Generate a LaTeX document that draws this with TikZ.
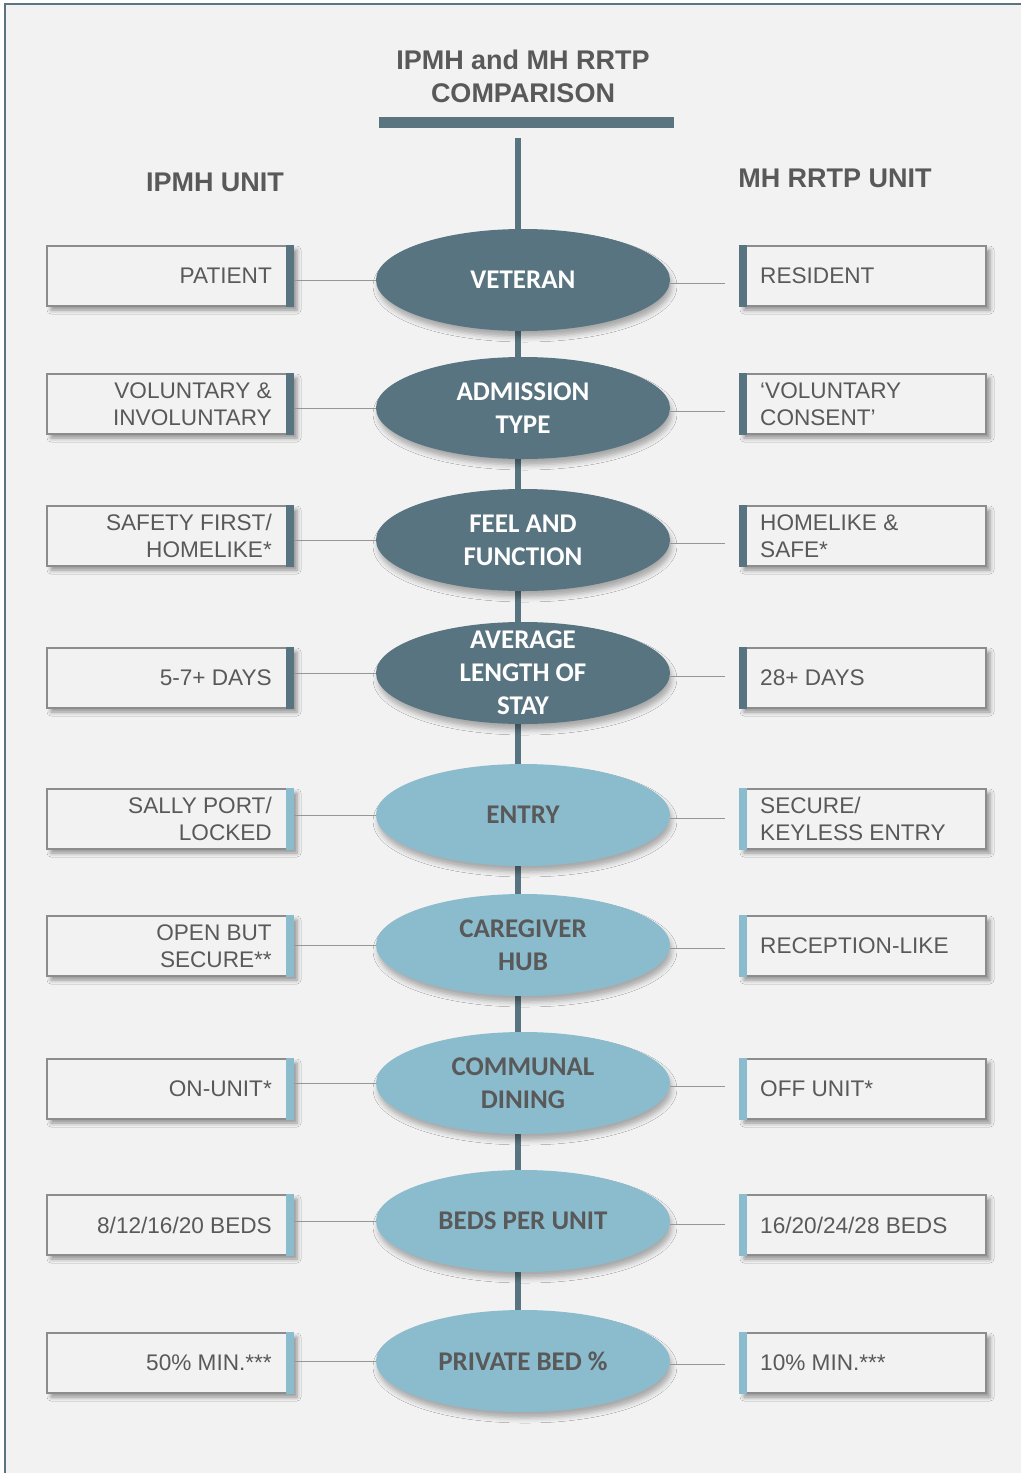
\documentclass[tikz,border=0pt]{standalone}
\usepackage{fontspec}
\setmainfont{Liberation Sans}
\newfontfamily\hubfont{Carlito}
\usetikzlibrary{shapes.geometric,shadows.blur}

\definecolor{pagebg}{HTML}{F2F2F2}
\definecolor{framec}{HTML}{5B7580}
\definecolor{darkc}{HTML}{587480}
\definecolor{lightc}{HTML}{8BBCCE}
\definecolor{txt}{HTML}{595959}
\definecolor{boxline}{HTML}{8C8C8C}
\definecolor{linkc}{HTML}{969696}

\tikzset{
  heading/.style={font=\fontsize{27}{33}\selectfont\bfseries, text=txt, align=center, inner sep=0},
  hub/.style={ellipse, minimum width=294, minimum height=102, inner sep=0,
    blur shadow={shadow xshift=2pt, shadow yshift=-6pt, shadow blur radius=5pt, shadow opacity=30}},
  darkhub/.style={hub, fill=darkc},
  lighthub/.style={hub, fill=lightc},
  hubtext/.style={font=\hubfont\bfseries\fontsize{27}{33}\selectfont, align=center, inner sep=0},
  darktext/.style={hubtext, text=white},
  lighttext/.style={hubtext, text=txt},
  sidebox/.style={draw=boxline, line width=1.2pt, fill=pagebg, minimum width=246, minimum height=60, inner sep=0,
    blur shadow={shadow xshift=4pt, shadow yshift=-4pt, shadow blur radius=4pt, shadow opacity=40}},
  boxtext/.style={font=\fontsize{22.6}{27}\selectfont, text=txt, inner sep=0},
  ltext/.style={boxtext, anchor=east, align=right},
  rtext/.style={boxtext, anchor=west, align=left},
  link/.style={draw=linkc, line width=1pt},
  spine/.style={draw=darkc, line width=6pt},
}

% one comparison row: index, hub y, box y, tone, hub text, left text, right text
\newcommand\comprow[7]{%
  \node[#4hub] (e#1) at (523,#2) {};
  \node[#4text] (et#1) at (e#1.center) {#5};
  \node[sidebox] (l#1) at (170,#3) {};
  \fill[#4c] ([xshift=-8pt]l#1.north east) rectangle (l#1.south east);
  \node[ltext] (lt#1) at (272,#3) {#6};
  \node[sidebox] (r#1) at (863,#3) {};
  \fill[#4c] (r#1.north west) rectangle ([xshift=8pt]r#1.south west);
  \node[rtext] (rt#1) at (760,#3) {#7};
  \coordinate (rc#1) at (725,#2+3);
  \draw[link] (e#1.west) -- (e#1.west -| l#1.east);
  \draw[link] (e#1.east |- rc#1) -- (rc#1);
}

\begin{document}
\begin{tikzpicture}[x=1pt,y=-1pt]
  \useasboundingbox (0,0) rectangle (1021,1473);
  \fill[white] (0,0) rectangle (1021,1473);
  \fill[pagebg] (5,4) rectangle (1021,1473);
  \draw[framec, line width=1.5pt] (5,1473) -- (5,4) -- (1021,4);

  % title and column headings
  \node[heading] (title) at (523,76) {IPMH and MH RRTP\\COMPARISON};
  \node[fill=framec, minimum width=295, minimum height=11, inner sep=0] (bar) at (526.5,122.5) {};
  \node[heading] (lhead) at (215,182) {IPMH UNIT};
  \node[heading] (rhead) at (835,178) {MH RRTP UNIT};

  % central spine
  \coordinate (spinetop) at (518,138);
  \coordinate (spinebot) at (518,1320);
  \draw[spine] (spinetop) -- (spinebot);

  \comprow{1}{280}{276}{dark}{VETERAN}{PATIENT}{RESIDENT}
  \comprow{2}{408}{404}{dark}{ADMISSION\\TYPE}{VOLUNTARY \&\\INVOLUNTARY}{‘VOLUNTARY\\CONSENT’}
  \comprow{3}{540}{536}{dark}{FEEL AND\\FUNCTION}{SAFETY FIRST/\\HOMELIKE*}{HOMELIKE \&\\SAFE*}
  \comprow{4}{673}{678}{dark}{AVERAGE\\LENGTH OF\\STAY}{5-7+ DAYS}{28+ DAYS}
  \comprow{5}{815}{819}{light}{ENTRY}{SALLY PORT/\\LOCKED}{SECURE/\\KEYLESS ENTRY}
  \comprow{6}{945}{946}{light}{CAREGIVER\\HUB}{OPEN BUT\\SECURE**}{RECEPTION-LIKE}
  \comprow{7}{1083}{1089}{light}{COMMUNAL\\DINING}{ON-UNIT*}{OFF UNIT*}
  \comprow{8}{1221}{1225}{light}{BEDS PER UNIT}{8/12/16/20 BEDS}{16/20/24/28 BEDS}
  \comprow{9}{1361}{1363}{light}{PRIVATE BED \%}{50\% MIN.***}{10\% MIN.***}
\end{tikzpicture}
\end{document}
